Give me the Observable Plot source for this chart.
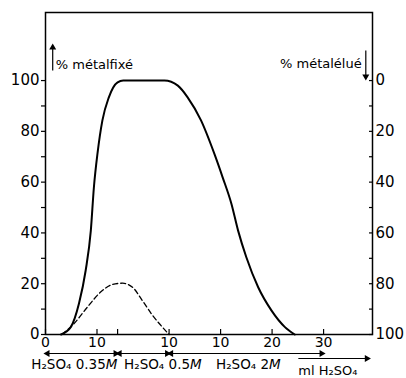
<!DOCTYPE html>
<html><head><meta charset="utf-8">
<script src="https://cdn.jsdelivr.net/npm/d3@7"></script>
<script src="https://cdn.jsdelivr.net/npm/@observablehq/plot@0.6"></script>
<style>
body{margin:0;background:#fff}
#chart svg{font-family:"DejaVu Sans",sans-serif;background:#fff}
</style>
</head><body><div id="chart"></div>
<script>
// cumulative ml of H2SO4 (x) and % metal fixed (left scale)
const fixedML  = [3.0, 4.9, 6.5, 7.8, 8.8, 9.4, 10.1, 11.05, 12.3, 14.0, 15.1, 23.1, 25.7, 27.6, 30.2, 32.8, 34.4, 36.1, 37.4, 39.0, 41.3, 43.9, 46.5, 48.4];
const fixedPct = [0, 2.9, 12.2, 25.2, 40.9, 58, 71.3, 84.3, 93.4, 99.3, 100, 100, 98, 93.4, 84.3, 71.1, 61.9, 51.5, 40.9, 30.4, 18.6, 9.4, 2.9, 0];
// dashed curve
const dashML  = [3.2, 5.5, 8.1, 10.7, 13.0, 15.0, 16.9, 18.8, 20.8, 22.7, 24.0];
const dashPct = [0, 4.2, 10.7, 16.7, 19.7, 20.2, 18.6, 13.4, 7.5, 2.9, 0];
// axes
const yTicks = [0, 20, 40, 60, 80, 100];
const yMinor = [10, 30, 50, 70, 90];
const xTicks = [0, 10, 24, 34, 44, 54];
const xTickLabels = ["0", "10", "10", "10", "20", "30"];
const xMinor = [14];
// eluant segments (cumulative ml)
const segStart = [0, 14, 24];
const segEnd = [14, 24, 54];
const segLabels = ["H₂SO₄ 0.35M", "H₂SO₄ 0.5M", "H₂SO₄ 2M"];
const leftTitle = "% métalfixé";
const rightTitle = "% métalélué";
const xTitle = "ml H₂SO₄";

// annotation placement (data units)
const segLabelX = [5.6, 22.8, 39.4];
const xTitleRange = [49.1, 62.6];

const segs = segLabels.map((label, i) => ({label, x1: segStart[i], x2: segEnd[i], lx: segLabelX[i]}));
const fixed = fixedML.map((x, i) => ({x, y: fixedPct[i]}));
const dashed = dashML.map((x, i) => ({x, y: dashPct[i]}));
const head = {symbol: "triangle", r: 2.6, fill: "#000", stroke: "none"};

const chart = Plot.plot({
  width: 406, height: 378,
  marginTop: 12, marginRight: 34, marginBottom: 44, marginLeft: 45,
  style: {fontSize: "14px", color: "#000", background: "#fff"},
  x: {domain: [0, 63.5]},
  y: {domain: [0, 126.8]},
  marks: [
    Plot.frame({stroke: "#000", strokeWidth: 1.5}),
    Plot.axisY({ticks: yTicks, tickSize: 4, tickPadding: 2, fontSize: 15, label: null, strokeWidth: 1.2}),
    Plot.axisY({ticks: yMinor, tickSize: 4, tickFormat: () => "", label: null, strokeWidth: 1.2}),
    Plot.axisY({anchor: "right", ticks: yTicks, tickSize: -4, tickPadding: 7, tickFormat: d => 100 - d, fontSize: 15, label: null, strokeWidth: 1.2}),
    Plot.axisY({anchor: "right", ticks: yMinor, tickSize: -4, tickFormat: () => "", label: null, strokeWidth: 1.2}),
    Plot.axisX({ticks: xTicks, tickSize: -5, tickPadding: 8, tickFormat: (d, i) => xTickLabels[i], fontSize: 14, label: null, strokeWidth: 1.2}),
    Plot.axisX({ticks: xMinor, tickSize: -5, tickFormat: () => "", label: null, strokeWidth: 1.2}),
    Plot.line(fixed, {x: "x", y: "y", curve: "monotone-x", stroke: "#000", strokeWidth: 2}),
    Plot.line(dashed, {x: "x", y: "y", curve: "monotone-x", stroke: "#000", strokeWidth: 1.3, strokeDasharray: "5,3"}),
    // eluant segment double arrows
    Plot.link(segs, {x1: "x1", x2: "x2", y1: 0, y2: 0, dy: 19, stroke: "#000", strokeWidth: 1.2}),
    Plot.dot(segs, {x: "x1", y: 0, dy: 19, dx: 2, rotate: 270, ...head}),
    Plot.dot(segs, {x: "x2", y: 0, dy: 19, dx: -2, rotate: 90, ...head}),
    Plot.text(segs, {x: "lx", y: 0, dy: 30, text: "label", fontSize: 13.5, fill: "#000"}),
    // ml H2SO4 arrow
    Plot.link([xTitle], {x1: xTitleRange[0], x2: xTitleRange[1], y1: 0, y2: 0, dy: 24, stroke: "#000", strokeWidth: 1.2}),
    Plot.dot([xTitle], {x: xTitleRange[1], y: 0, dy: 24, dx: -1, rotate: 90, ...head}),
    Plot.text([xTitle], {x: xTitleRange[0], y: 0, dy: 36, text: d => d, textAnchor: "start", fontSize: 13, fill: "#000"}),
    // axis titles with vertical arrows
    Plot.link([leftTitle], {x1: 1.4, x2: 1.4, y1: 104, y2: 113.8, stroke: "#000", strokeWidth: 1.2}),
    Plot.dot([leftTitle], {x: 1.4, y: 113.8, dy: 2, rotate: 0, ...head}),
    Plot.text([leftTitle], {x: 2.0, y: 104.5, text: d => d, textAnchor: "start", lineAnchor: "bottom", fontSize: 13, fill: "#000"}),
    Plot.link([rightTitle], {x1: 62.2, x2: 62.2, y1: 111.8, y2: 100.8, stroke: "#000", strokeWidth: 1.2}),
    Plot.dot([rightTitle], {x: 62.2, y: 100.8, dy: -2, rotate: 180, ...head}),
    Plot.text([rightTitle], {x: 61.4, y: 105, text: d => d, textAnchor: "end", lineAnchor: "bottom", fontSize: 13, fill: "#000"})
  ]
});

// italicise the molarity unit M
d3.select(chart).selectAll("text").each(function() {
  const t = this.textContent;
  if (t.includes("SO₄") && /M$/.test(t)) {
    const sel = d3.select(this);
    sel.text(t.slice(0, -1));
    sel.append("tspan").attr("font-style", "italic").text("M");
  }
});
document.getElementById("chart").appendChild(chart);
</script>
</body></html>
